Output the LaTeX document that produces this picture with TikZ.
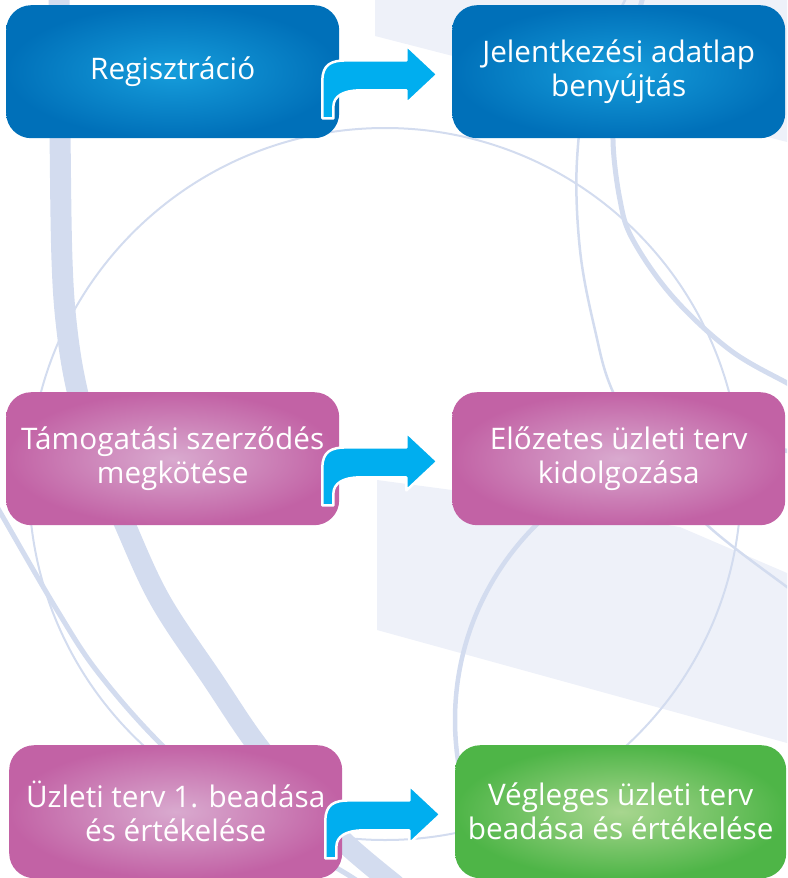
\documentclass[tikz,border=0pt]{standalone}
\usepackage{fontspec}
\setmainfont{Open Sans}
\definecolor{wmfill}{HTML}{EEF1F9}
\definecolor{wmline}{HTML}{D3DCEF}
\definecolor{blueC}{HTML}{169DDB}
\definecolor{blueO}{HTML}{0070B9}
\definecolor{purpC}{HTML}{D9AACF}
\definecolor{purpO}{HTML}{C262A5}
\definecolor{greenC}{HTML}{A8D68F}
\definecolor{greenO}{HTML}{4EB547}
\definecolor{arrowblue}{HTML}{00AEEF}
\tikzset{
  stepbox/.style={rounded corners=25pt, minimum width=333pt, minimum height=133pt,
    align=center, text=white, inner sep=0pt, anchor=north west,
    font=\fontsize{29.7}{34}\selectfont, shading=radial},
  bluebox/.style={stepbox, inner color=blueC, outer color=blueO},
  purpbox/.style={stepbox, inner color=purpC, outer color=purpO},
  greenbox/.style={stepbox, inner color=greenC, outer color=greenO},
  bendarrow/.style={fill=arrowblue, draw=white, line width=2.5pt, line join=round},
  wm/.style={draw=wmline, line cap=round}
}
\newcommand\mybendarrow[1]{%
  \begin{scope}[shift={(#1)}]
    \draw[bendarrow] (-17,-20) -- (-17,-58)
      .. controls (-17,-74) and (-8,-78) .. (7,-78)
      -- (67,-78) -- (67,-93) -- (98,-64) -- (67,-35) -- (67,-48) -- (20,-48)
      .. controls (4,-48) and (-6,-42) .. (-6,-32) -- (-6,-20) -- cycle;
  \end{scope}}
\begin{document}
\begin{tikzpicture}[x=1pt,y=-1pt]
\useasboundingbox (0,0) rectangle (787,878);
% watermark background
\fill[wmfill] (375,0) -- (375,36) -- (787,142) -- (787,0) -- cycle;
\fill[wmfill] (377,480) -- (452,490) -- (680,527) -- (787,573) -- (787,743) -- (377,630) -- cycle;
\begin{scope}
\clip (0,0) rectangle (787,878);
\draw[wm, line width=21pt] plot[smooth, tension=0.6] coordinates {(59,-10) (60,130) (62,260) (67,330) (77,390) (95,455) (123,520) (160,600) (213,680) (257,745) (300,795) (345,843) (395,885)};
\draw[wm, line width=2pt] (385,484) circle[radius=356pt];
\draw[wm, line width=5pt] plot[smooth, tension=0.6] coordinates {(-10,495) (0,512) (57,610) (100,675) (167,750) (250,820) (340,870) (370,890)};
\draw[wm, line width=2.5pt] plot[smooth, tension=0.6] coordinates {(630,-10) (590,80) (577,160) (580,250) (595,330) (613,392) (655,465) (707,525) (787,587) (800,595)};
\draw[wm, line width=5pt] plot[smooth, tension=0.6] coordinates {(645,-10) (618,90) (613,140) (620,200) (633,240) (673,297) (730,350) (787,383) (800,390)};
\draw[wm, line width=4.5pt] (730,720) circle[radius=275pt];
\end{scope}
% boxes
\node[bluebox] (r1) at (6,5) {\raisebox{-2pt}{Regisztráció}};
\node[bluebox] (r2) at (452,5) {Jelentkezési adatlap\\benyújtás};
\node[purpbox] (r3) at (6,392) {Támogatási szerződés\\megkötése};
\node[purpbox] (r4) at (452,392) {Előzetes üzleti terv\\kidolgozása};
\node[purpbox] (r5) at (9,745) {Üzleti terv 1. beadása\\és értékelése};
\node[greenbox, minimum width=331pt] (r6) at (455,745) {Végleges üzleti terv\\beadása és értékelése};
% bent arrows
\mybendarrow{r1.south east}
\mybendarrow{r3.south east}
\mybendarrow{r5.south east}
\end{tikzpicture}
\end{document}
